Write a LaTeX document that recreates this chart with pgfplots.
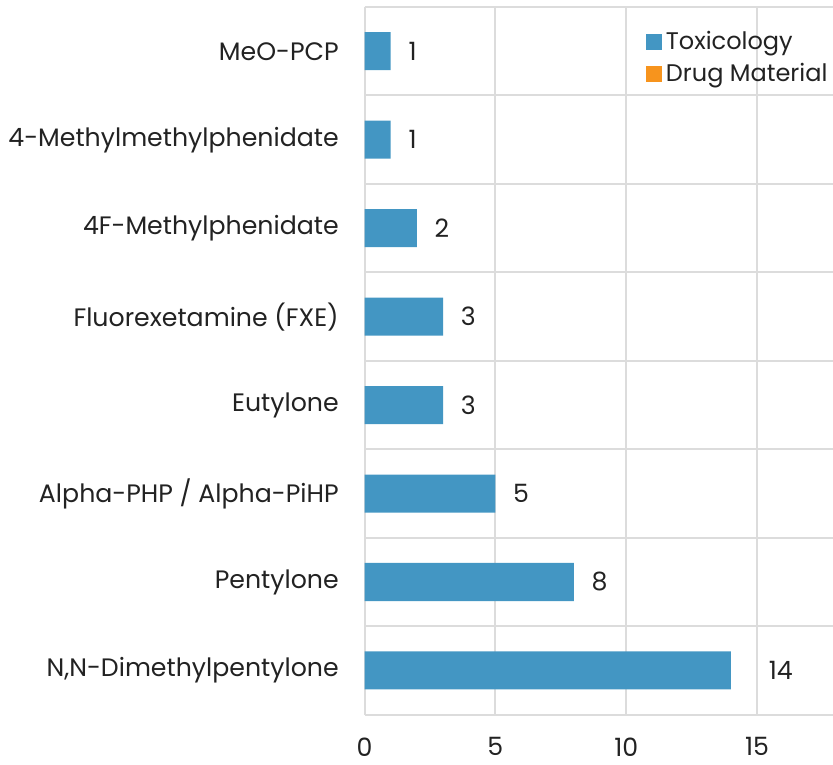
\documentclass[border=0pt]{standalone}
\usepackage{fontspec}
\setmainfont{Poppins}
\usepackage{pgfplots}
\usepackage{pgfplotstable}
\pgfplotsset{compat=1.18}
\pgfplotsset{/pgf/number format/assume math mode=true}
\definecolor{tox}{HTML}{4396C3}
\definecolor{drug}{HTML}{F7941D}
\definecolor{gridc}{HTML}{DCDCDC}
\definecolor{txt}{HTML}{222222}
\pgfplotstableread{
y x off
0 14 14.5
1 8 4.5
2 5 4.5
3 3 4.5
4 3 4.5
5 2 4.5
6 1 4.5
7 1 4.5
}\toxdata
\newcommand{\chfont}{\fontsize{12.6}{14.5}\selectfont}
\newcommand{\lgfont}{\fontsize{12}{14}\selectfont}
\begin{document}
\chfont
\begin{tikzpicture}[trim axis right]
\begin{axis}[
  scale only axis, width=234pt, height=353.5pt,
  xbar, bar width=19pt,
  xmin=0, xmax=17.9, ymin=-0.5, ymax=7.5,
  xtick={0,5,10,15},
  ytick={0,...,7},
  yticklabels={{N,N-Dimethylpentylone},Pentylone,{Alpha-PHP / Alpha-PiHP},Eutylone,{Fluorexetamine (FXE)},4F-Methylphenidate,4-Methylmethylphenidate,MeO-PCP},
  minor ytick={-0.5,0.5,...,7.5},
  xmajorgrids, yminorgrids,
  major grid style={gridc, line width=1pt},
  minor grid style={gridc, line width=1pt},
  axis line style={draw=none},
  tick style={draw=none},
  major tick length=0pt, minor tick length=0pt,
  xticklabel style={yshift=-7pt},
  yticklabel style={xshift=-8.5pt},
  ticklabel style={font=\chfont, text=txt},
  legend style={at={(0.587,0.978)}, anchor=north west, draw=none, fill=none,
    font=\lgfont, text=txt, row sep=1pt,
    /tikz/every even column/.append style={column sep=2pt}},
  legend cell align=left,
  legend image code/.code={\fill[#1] (0pt,-4pt) rectangle (8pt,4pt);},
]
\addplot[fill=tox, draw=none, bar shift=0pt,
  nodes near coords,
  visualization depends on={\thisrow{off} \as \myoff},
  every node near coord/.append style={anchor=west, xshift=\myoff pt, text=txt,
    font=\chfont}]
  table[x=x, y=y] {\toxdata};
\addlegendentry{Toxicology}
\addlegendimage{fill=drug, draw=none}
\addlegendentry{Drug Material}
\end{axis}
\path ([yshift=3.5pt]current axis.north west);
\end{tikzpicture}
\end{document}
